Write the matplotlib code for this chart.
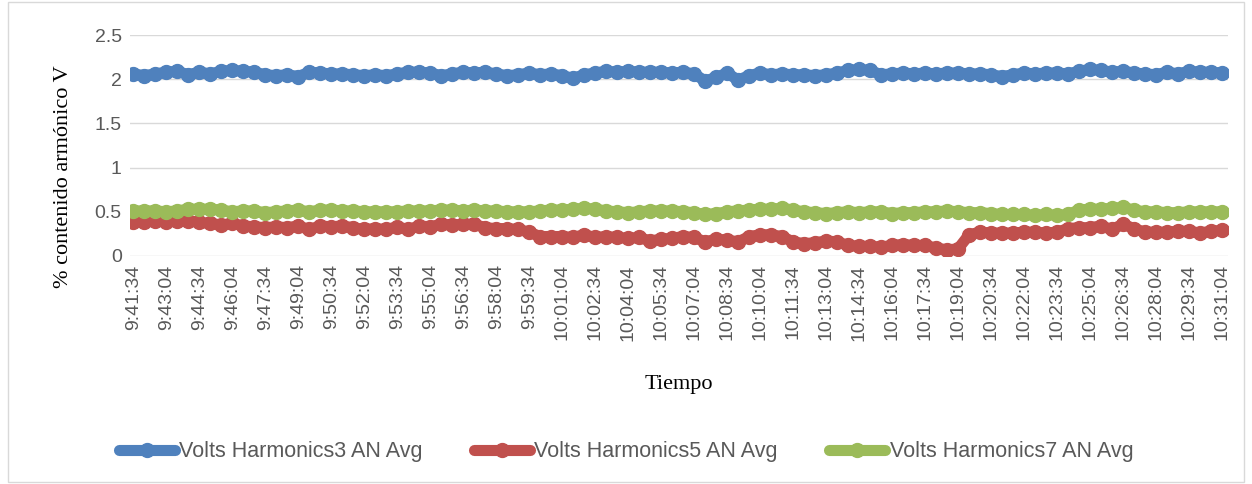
import matplotlib
matplotlib.use('Agg')
import matplotlib.pyplot as plt
from matplotlib.patches import Rectangle
import numpy as np

# 30 s samples, 9:41:34 -> 10:31:04
start_sec = 9*3600 + 41*60 + 34
n_pts = 100
times = ['%d:%02d:%02d' % ((start_sec+30*i)//3600, ((start_sec+30*i)%3600)//60, (start_sec+30*i)%60)
         for i in range(n_pts)]

h3 = [2.06, 2.04, 2.06, 2.08, 2.09, 2.05, 2.08, 2.06, 2.09, 2.10,
      2.09, 2.08, 2.05, 2.04, 2.05, 2.03, 2.08, 2.07, 2.06, 2.06,
      2.05, 2.04, 2.05, 2.04, 2.06, 2.08, 2.08, 2.07, 2.04, 2.06,
      2.08, 2.07, 2.08, 2.06, 2.04, 2.05, 2.07, 2.05, 2.06, 2.04,
      2.01, 2.05, 2.07, 2.09, 2.08, 2.09, 2.08, 2.08, 2.08, 2.07,
      2.08, 2.06, 1.98, 2.02, 2.07, 1.99, 2.04, 2.07, 2.05, 2.06,
      2.05, 2.05, 2.04, 2.05, 2.07, 2.10, 2.11, 2.10, 2.05, 2.06,
      2.07, 2.06, 2.07, 2.06, 2.07, 2.07, 2.06, 2.06, 2.05, 2.03,
      2.05, 2.07, 2.06, 2.07, 2.07, 2.06, 2.09, 2.11, 2.10, 2.08,
      2.09, 2.07, 2.06, 2.05, 2.08, 2.06, 2.09, 2.08, 2.08, 2.07]

h5 = [0.39, 0.39, 0.40, 0.39, 0.40, 0.40, 0.38, 0.37, 0.35, 0.37,
      0.34, 0.33, 0.32, 0.33, 0.32, 0.34, 0.30, 0.34, 0.33, 0.34,
      0.32, 0.30, 0.31, 0.30, 0.33, 0.30, 0.34, 0.33, 0.36, 0.35,
      0.36, 0.36, 0.32, 0.31, 0.31, 0.30, 0.27, 0.22, 0.22, 0.22,
      0.21, 0.24, 0.21, 0.22, 0.21, 0.20, 0.21, 0.17, 0.19, 0.20,
      0.22, 0.21, 0.16, 0.19, 0.18, 0.16, 0.22, 0.24, 0.24, 0.22,
      0.16, 0.14, 0.15, 0.17, 0.16, 0.12, 0.11, 0.11, 0.10, 0.12,
      0.13, 0.12, 0.12, 0.09, 0.07, 0.08, 0.24, 0.27, 0.26, 0.26,
      0.26, 0.27, 0.27, 0.26, 0.27, 0.31, 0.32, 0.32, 0.34, 0.30,
      0.36, 0.31, 0.27, 0.27, 0.27, 0.28, 0.28, 0.26, 0.28, 0.29]

h7 = [0.51, 0.51, 0.51, 0.50, 0.51, 0.53, 0.53, 0.53, 0.52, 0.50,
      0.51, 0.51, 0.49, 0.50, 0.51, 0.52, 0.50, 0.52, 0.52, 0.51,
      0.51, 0.50, 0.50, 0.50, 0.50, 0.51, 0.51, 0.51, 0.52, 0.52,
      0.51, 0.52, 0.51, 0.51, 0.50, 0.50, 0.50, 0.51, 0.52, 0.52,
      0.53, 0.54, 0.53, 0.51, 0.50, 0.49, 0.50, 0.51, 0.51, 0.51,
      0.50, 0.49, 0.47, 0.48, 0.50, 0.51, 0.52, 0.53, 0.53, 0.54,
      0.52, 0.50, 0.49, 0.48, 0.49, 0.50, 0.49, 0.50, 0.50, 0.48,
      0.49, 0.49, 0.50, 0.50, 0.51, 0.50, 0.49, 0.49, 0.48, 0.47,
      0.47, 0.47, 0.46, 0.47, 0.46, 0.47, 0.52, 0.53, 0.53, 0.54,
      0.55, 0.52, 0.50, 0.50, 0.49, 0.49, 0.50, 0.50, 0.50, 0.50]

series = [(h3, 'Volts Harmonics3 AN Avg', '#4F81BD'),
          (h5, 'Volts Harmonics5 AN Avg', '#C0504D'),
          (h7, 'Volts Harmonics7 AN Avg', '#9BBB59')]

W, H = 1252, 484
fig = plt.figure(figsize=(W/100, H/100), dpi=100)
ax = fig.add_axes([130/W, 1-256/H, (1228-130)/W, (256-35)/H])

x = np.arange(n_pts)
for vals, name, col in series:
    ax.plot(x, vals, color=col, lw=8, marker='o', ms=10, mec=col, mfc=col,
            label=name, solid_capstyle='round', solid_joinstyle='round')

ax.set_ylim(0, 2.5)
ax.set_yticks(np.arange(0, 2.51, 0.5))
ax.set_yticklabels(['0', '0.5', '1', '1.5', '2', '2.5'])
ax.set_xlim(-0.3, 99.55)
ax.set_xticks(x[::3])
ax.set_xticklabels(times[::3], rotation=90)
ax.grid(axis='y', color='#D9D9D9', lw=1)
ax.set_axisbelow(True)
for s in ax.spines.values():
    s.set_visible(False)
ax.tick_params(length=0, labelsize=14, labelcolor='#595959', pad=6)
for lab in ax.get_xticklabels() + ax.get_yticklabels():
    lab.set_family('Liberation Sans')

ax.set_ylabel('% contenido armónico V', family='Liberation Serif', fontsize=16)
ax.yaxis.set_label_coords(-0.052, 0.36)
ax.set_xlabel('Tiempo', family='Liberation Serif', fontsize=16)
ax.xaxis.set_label_coords(0.5, -0.54)

leg = fig.legend(loc='center', bbox_to_anchor=(0.5, 1-452/H), ncol=3, frameon=False,
                 prop={'family': 'Liberation Sans', 'size': 15.5}, handlelength=2.6,
                 columnspacing=2.4, handletextpad=0.2)
for t in leg.get_texts():
    t.set_color('#595959')

fig.patches.append(Rectangle((8/W, 2/H), 1-16/W, 1-4/H, transform=fig.transFigure,
                             fill=False, ec='#D9D9D9', lw=1))

fig.savefig('out.png', dpi=100)
